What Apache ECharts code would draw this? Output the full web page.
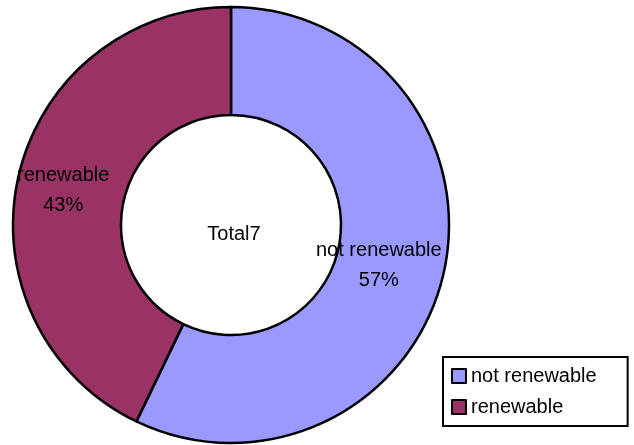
<!DOCTYPE html>
<html>
<head>
<meta charset="utf-8">
<script src="https://cdn.jsdelivr.net/npm/echarts@6/dist/echarts.min.js"></script>
<style>
html,body{margin:0;padding:0;background:#fff;}
#c{width:634px;height:445px;}
</style>
</head>
<body>
<div id="c"></div>
<script>
var categories = ['not renewable', 'renewable'];
var values = [4, 3];
var colors = ['#9999FF', '#993366'];
var centerTitle = 'Total7';

var chart = echarts.init(document.getElementById('c'), null, {renderer: 'canvas'});
var offsets = [[-15, 3], [-5, 3]];
var data = categories.map(function (n, i) {
  return {
    name: n, value: values[i],
    itemStyle: {color: colors[i]},
    label: {offset: offsets[i]}
  };
});
chart.setOption({
  animation: false,
  backgroundColor: '#ffffff',
  textStyle: {fontFamily: 'Liberation Sans, Arial, sans-serif'},
  legend: {
    orient: 'vertical',
    left: 443, top: 357,
    padding: [9, 31, 9, 8],
    itemGap: 11,
    itemWidth: 14, itemHeight: 14,
    icon: 'rect',
    borderColor: '#000', borderWidth: 2,
    backgroundColor: '#fff',
    itemStyle: {borderColor: '#000', borderWidth: 2},
    textStyle: {fontSize: 20, color: '#000', fontFamily: 'Liberation Sans, Arial, sans-serif'},
    data: categories
  },
  graphic: [{
    type: 'text',
    style: {
      text: centerTitle, x: 234, y: 234,
      textAlign: 'center', textVerticalAlign: 'middle',
      fontSize: 20, fill: '#000', fontFamily: 'Liberation Sans, Arial, sans-serif'
    }
  }],
  series: [{
    type: 'pie',
    center: [231, 225],
    radius: [110, 218],
    startAngle: 90,
    clockwise: true,
    avoidLabelOverlap: false,
    itemStyle: {borderColor: '#000', borderWidth: 2.5},
    label: {
      show: true,
      position: 'inside',
      formatter: function (p) { return p.name + '\n' + Math.round(p.percent) + '%'; },
      fontSize: 20,
      lineHeight: 30,
      color: '#000',
      fontFamily: 'Liberation Sans, Arial, sans-serif'
    },
    labelLine: {show: false},
    emphasis: {disabled: true},
    data: data
  }]
});
</script>
</body>
</html>
